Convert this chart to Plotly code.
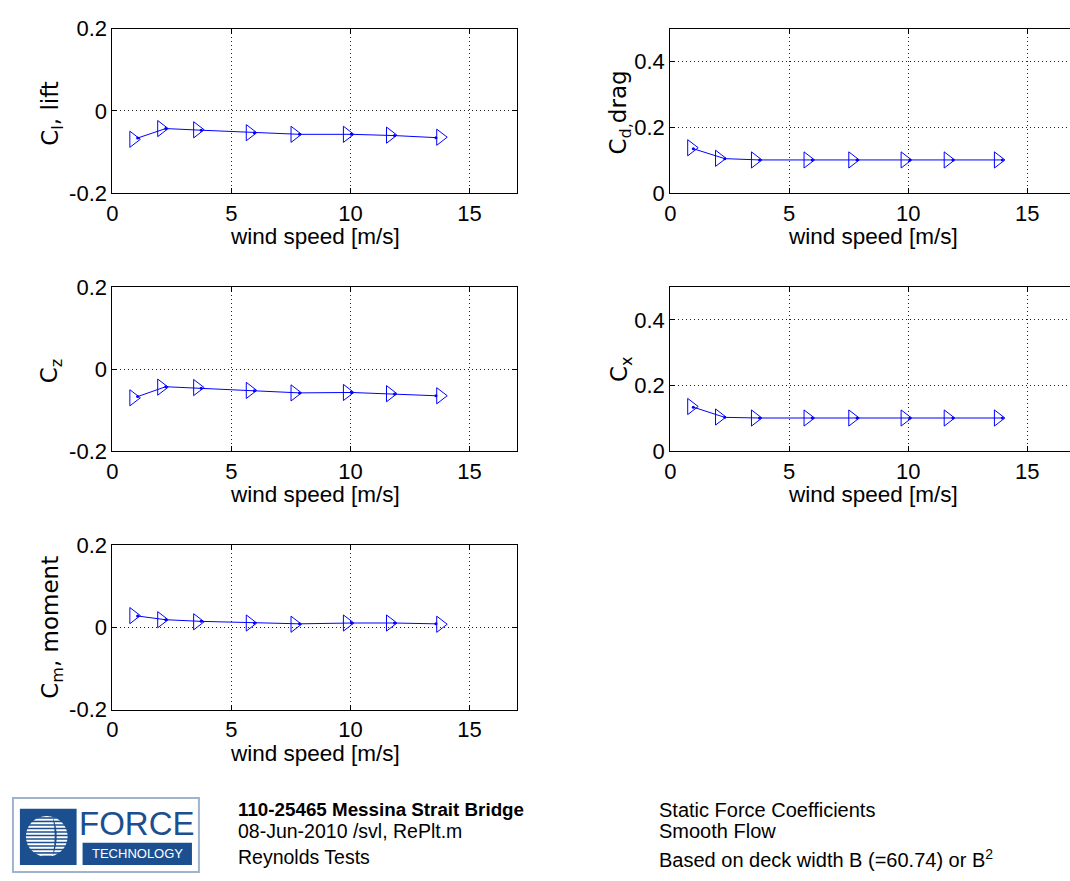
import math
import plotly.graph_objects as go

# ---------------- data ----------------
x_ticks = [0, 5, 10, 15]

# triangle markers (wind speed [m/s])
wind_speed_mk = [0.88, 2.05, 3.56, 5.77, 7.65, 9.85, 11.66, 13.77]
# connecting line vertices (wind speed [m/s])
wind_speed_ln_a = [1.06, 2.24, 3.73, 5.96, 7.86, 10.04, 11.85, 13.59]
wind_speed_ln_b = [0.97, 2.29, 3.75, 5.97, 7.85, 10.07, 11.88, 13.96]

cl_mk = [-0.069, -0.043, -0.046, -0.053, -0.057, -0.057, -0.059, -0.064]
cl_ln = [-0.066, -0.043, -0.047, -0.053, -0.057, -0.057, -0.060, -0.065]
cd_mk = [0.138, 0.106, 0.101, 0.101, 0.101, 0.101, 0.101, 0.101]
cd_ln = [0.135, 0.105, 0.101, 0.101, 0.101, 0.101, 0.101, 0.101]
cz_mk = [-0.070, -0.044, -0.045, -0.052, -0.058, -0.057, -0.060, -0.065]
cz_ln = [-0.067, -0.043, -0.047, -0.053, -0.058, -0.057, -0.061, -0.065]
cx_mk = [0.136, 0.104, 0.101, 0.101, 0.101, 0.101, 0.101, 0.101]
cx_ln = [0.134, 0.103, 0.101, 0.101, 0.101, 0.101, 0.101, 0.101]
cm_mk = [0.029, 0.019, 0.014, 0.011, 0.008, 0.011, 0.011, 0.008]
cm_ln = [0.028, 0.019, 0.015, 0.011, 0.009, 0.011, 0.011, 0.009]

y_ticks_sym = [-0.2, 0, 0.2]
y_ticktext_sym = ["-0.2", "0", "0.2"]
y_ticks_pos = [0, 0.2, 0.4]
y_ticktext_pos = ["0", "0.2", "0.4"]

W, H = 1070, 881
def px(x):
    return x / W
def py(y):
    return 1 - y / H

col_left = [px(107), px(514)]
col_right = [px(668), 1.0]
rows = [[py(186.5), py(17)], [py(452), py(283)], [py(718), py(549)]]

FONT = "Liberation Sans, Arial, Helvetica, sans-serif"
FONT2 = "DejaVu Sans, Liberation Sans, sans-serif"
BLUE = "#0000ff"
TICKFONT = dict(family=FONT, size=22, color="black")

panels = [
    (col_left, rows[0], [0, 17], [-0.2, 0.2], y_ticks_sym, y_ticktext_sym, wind_speed_ln_a, cl_ln, cl_mk, True),
    (col_right, rows[0], [0, 16.8], [0, 0.5], y_ticks_pos, y_ticktext_pos, wind_speed_ln_b, cd_ln, cd_mk, False),
    (col_left, rows[1], [0, 17], [-0.2, 0.2], y_ticks_sym, y_ticktext_sym, wind_speed_ln_a, cz_ln, cz_mk, True),
    (col_right, rows[1], [0, 16.8], [0, 0.5], y_ticks_pos, y_ticktext_pos, wind_speed_ln_b, cx_ln, cx_mk, False),
    (col_left, rows[2], [0, 17], [-0.2, 0.2], y_ticks_sym, y_ticktext_sym, wind_speed_ln_a, cm_ln, cm_mk, True),
]

fig = go.Figure()
layout = dict(
    width=W, height=H,
    margin=dict(l=0, r=0, t=0, b=0),
    paper_bgcolor="white", plot_bgcolor="white",
    showlegend=False,
    font=dict(family=FONT, size=21, color="black"),
)

for i, (xd, yd, xr, yr, tv, tt, lx, ly, my, mirror_y) in enumerate(panels, start=1):
    sfx = "" if i == 1 else str(i)
    xa = "x" + sfx
    ya = "y" + sfx
    fig.add_trace(go.Scatter(
        x=lx, y=ly, xaxis=xa, yaxis=ya, mode="lines+markers",
        line=dict(color=BLUE, width=1),
        marker=dict(symbol="circle", size=3, color=BLUE),
        hoverinfo="skip",
    ))
    fig.add_trace(go.Scatter(
        x=wind_speed_mk, y=my, xaxis=xa, yaxis=ya, mode="markers",
        marker=dict(symbol="triangle-right-open", size=14, color=BLUE,
                    line=dict(color=BLUE, width=1)),
    ))
    layout["xaxis" + sfx] = dict(
        domain=xd, range=xr, anchor=ya,
        tickvals=x_ticks, ticktext=[str(v) for v in x_ticks],
        ticks="inside", ticklen=5, tickcolor="black", tickwidth=1,
        showline=True, linecolor="black", linewidth=1, mirror="ticks",
        showgrid=True, gridcolor="#222222", griddash="1px,3px", gridwidth=1,
        zeroline=False, tickfont=TICKFONT, fixedrange=True,
    )
    layout["yaxis" + sfx] = dict(
        domain=yd, range=yr, anchor=xa,
        tickvals=tv, ticktext=tt,
        ticks="inside", ticklen=5, tickcolor="black", tickwidth=1,
        showline=True, linecolor="black", linewidth=1,
        mirror="ticks" if mirror_y else False,
        showgrid=True, gridcolor="#222222", griddash="1px,3px", gridwidth=1,
        zeroline=False, tickfont=TICKFONT, fixedrange=True,
    )

fig.update_layout(**layout)

ann = []
def text(x, y, s, size=21, xanchor="center", yanchor="middle", angle=0, color="black", family=FONT):
    ann.append(dict(x=x, y=y, xref="paper", yref="paper", text=s, showarrow=False,
                    xanchor=xanchor, yanchor=yanchor, textangle=angle,
                    font=dict(family=family, size=size, color=color)))

# x-axis titles
for cx_, cy_ in [((107 + 514) / 2, 231), ((668 + 1075) / 2, 231),
                 ((107 + 514) / 2, 497), ((668 + 1075) / 2, 497),
                 ((107 + 514) / 2, 763)]:
    text(px(cx_), py(cy_), "wind speed [m/s]", size=22.5)

# y-axis titles
YT = 23
text(px(46), py(104), "C<sub>l</sub>, lift", size=YT, angle=-90, family=FONT2)
text(px(618), py(104), "C<sub>d,</sub>drag", size=YT, angle=-90, family=FONT2)
text(px(45), py(369), "C<sub>z</sub>", size=YT, angle=-90, family=FONT2)
text(px(618), py(368), "C<sub>x</sub>", size=YT, angle=-90, family=FONT2)
text(px(46), py(633), "C<sub>m</sub>, moment", size=YT, angle=-90, family=FONT2)

# footer text
text(px(231), py(821), "<b>110-25465 Messina Strait Bridge</b>", size=18.8, xanchor="left")
text(px(231), py(843), "08-Jun-2010 /svl, RePlt.m", size=19.5, xanchor="left")
text(px(231), py(870), "Reynolds Tests", size=19.5, xanchor="left")
text(px(655), py(821), "Static Force Coefficients", size=20, xanchor="left")
text(px(655), py(843), "Smooth Flow", size=20, xanchor="left")
text(px(655), py(871), "Based on deck width B (=60.74) or B<sup>2</sup>", size=20, xanchor="left")

# logo
LOGO = "#1b4f8f"
shapes = []
def rect(x0, y0, x1, y1, fill=None, line=None, lw=0):
    shapes.append(dict(type="rect", xref="paper", yref="paper",
                       x0=px(x0), x1=px(x1), y0=py(y1), y1=py(y0),
                       fillcolor=fill if fill else "rgba(0,0,0,0)",
                       line=dict(color=line if line else "rgba(0,0,0,0)", width=lw),
                       layer="above"))
rect(7, 809, 194, 885, fill="white", line="#9fb3cc", lw=2)
rect(14, 820, 71, 878, fill=LOGO)
rect(77, 855, 187, 878, fill=LOGO)
cxl, cyl, rl = 41.0, 848.5, 21.0
shapes.append(dict(type="circle", xref="paper", yref="paper",
                   x0=px(cxl - rl), x1=px(cxl + rl), y0=py(cyl + rl), y1=py(cyl - rl),
                   fillcolor="white", line=dict(width=0), layer="above"))
yy = cyl - rl + 2
while yy < cyl + rl:
    h = math.sqrt(max(rl * rl - (yy - cyl) ** 2, 0))
    shapes.append(dict(type="line", xref="paper", yref="paper",
                       x0=px(cxl - h - 1), x1=px(cxl + h + 1), y0=py(yy), y1=py(yy),
                       line=dict(color=LOGO, width=1.6), layer="above"))
    yy += 3.6
shapes.append(dict(type="path", xref="paper", yref="paper",
                   path="M {a},{b} Q {c},{d} {a},{e} Q {f},{d} {a},{b} Z".format(
                       a=px(cxl + 6), b=py(cyl - rl + 1), c=px(cxl + 14), d=py(cyl),
                       e=py(cyl + rl - 1), f=px(cxl + 10)),
                   fillcolor=LOGO, line=dict(width=0), layer="above"))
fig.update_layout(shapes=shapes)

text(px(132), py(835), "FORCE", size=33, color=LOGO)
text(px(132), py(866.5), "TECHNOLOGY", size=13, color="white")

fig.update_layout(annotations=ann)
fig.write_html("out.html")
